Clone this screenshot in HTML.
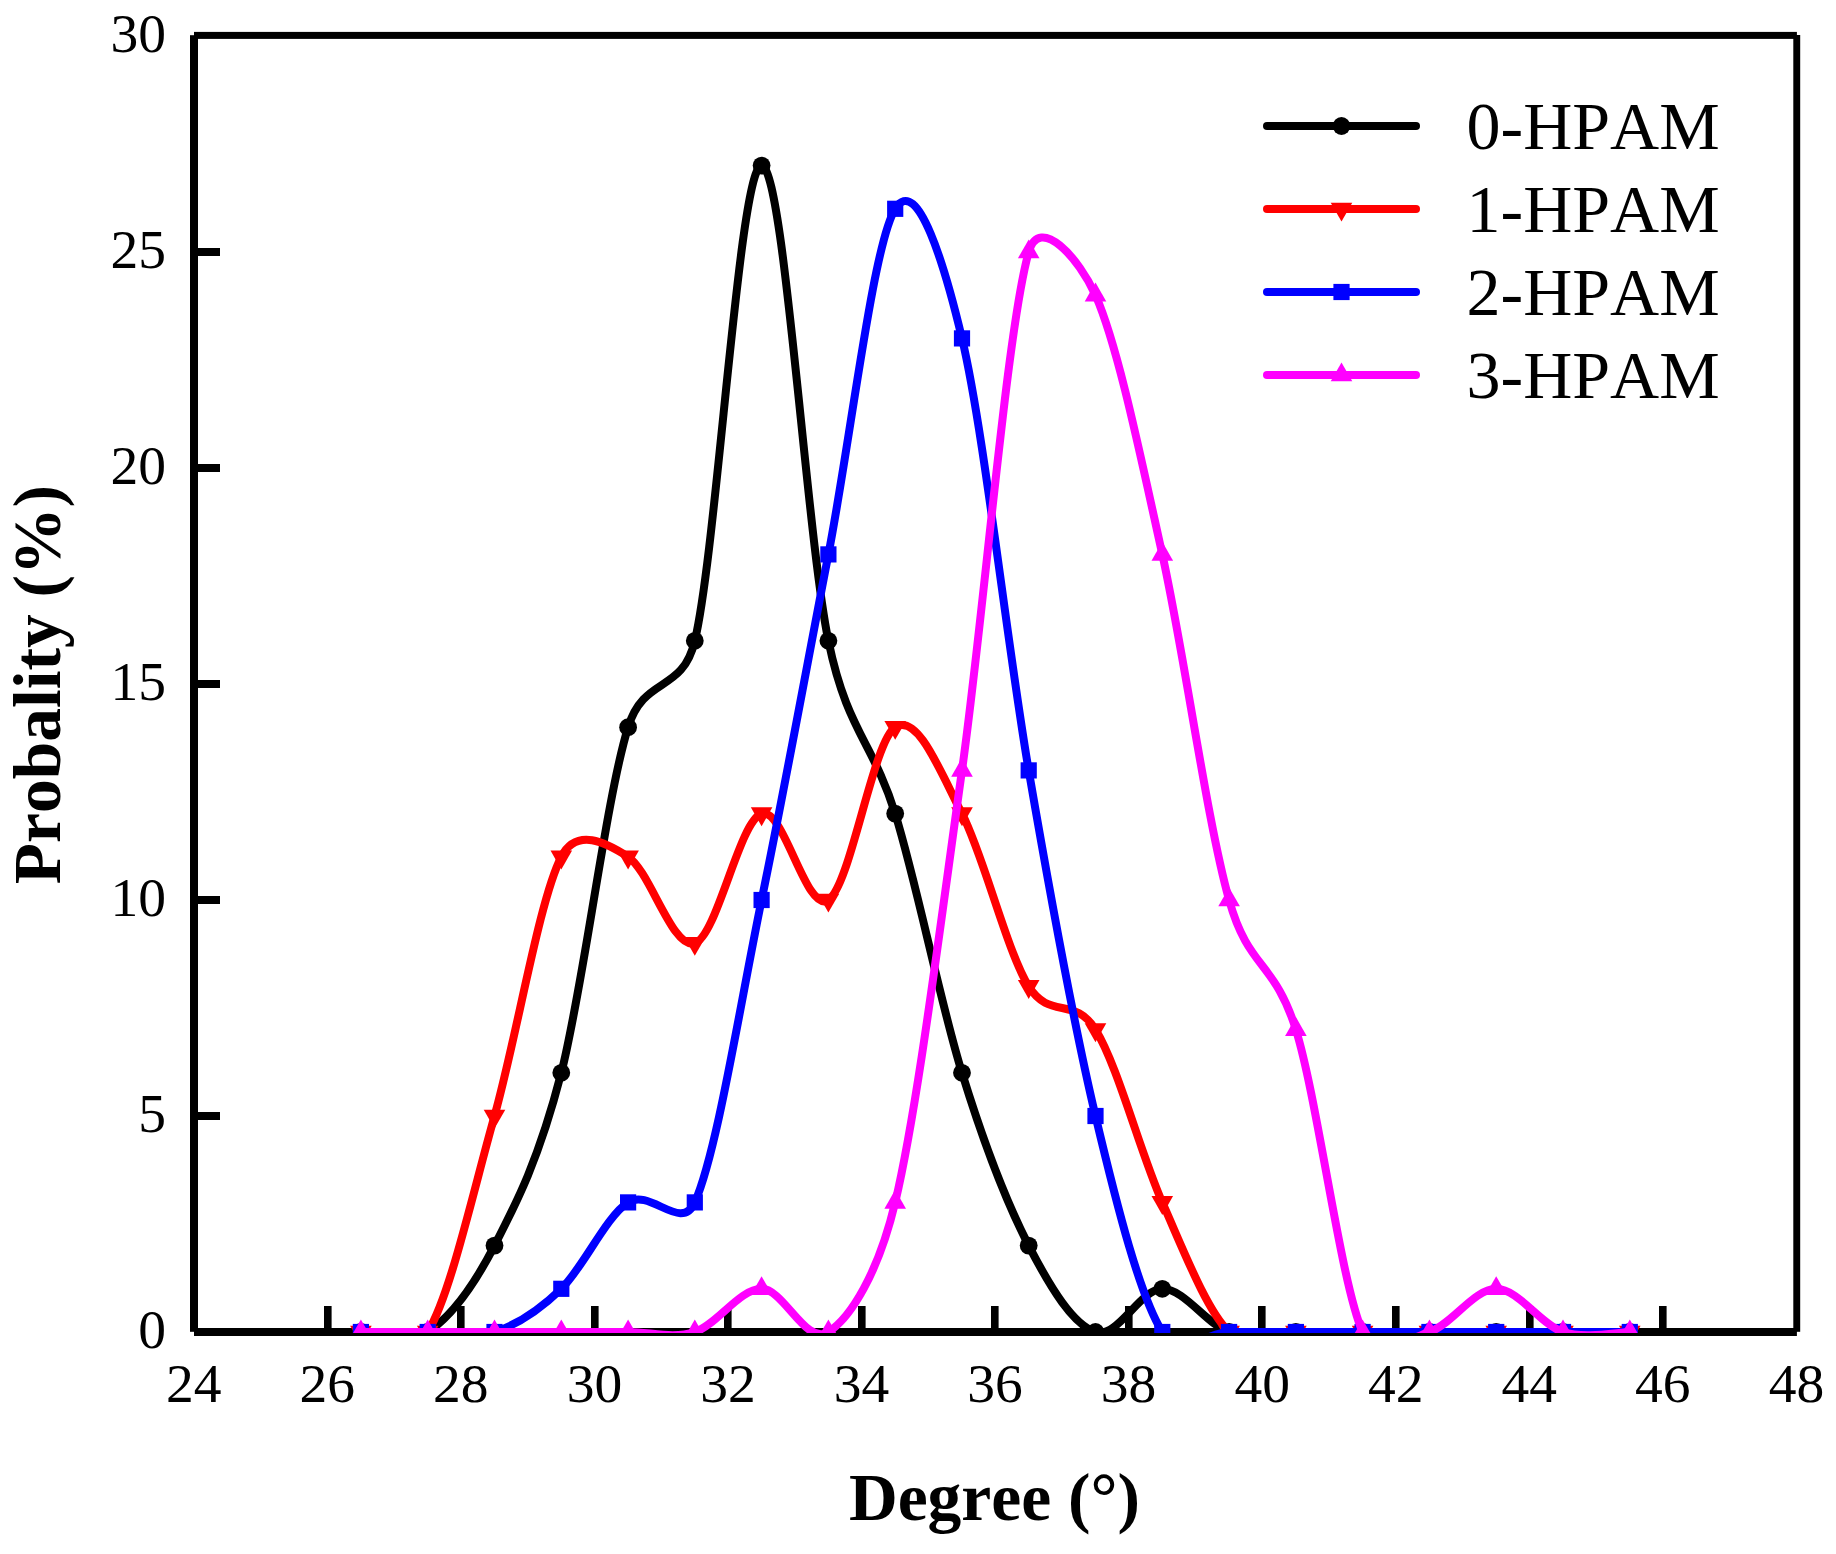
<!DOCTYPE html>
<html lang="en">
<head>
<meta charset="utf-8">
<title>Probality vs Degree</title>
<style>
html,body{margin:0;padding:0;background:#fff;}
body{width:1836px;height:1554px;overflow:hidden;}
svg{display:block;}
text{font-family:"Liberation Serif","Times New Roman",serif;fill:#000;font-kerning:none;font-variant-ligatures:none;}
.tk{font-size:55.5px;}
.lg{font-size:68px;}
.ti{font-size:67.5px;font-weight:bold;}
</style>
</head>
<body>
<svg width="1836" height="1554" viewBox="0 0 1836 1554">
<rect width="1836" height="1554" fill="#fff"/>
<defs><clipPath id="frame"><rect x="194" y="35" width="1603" height="1298"/></clipPath></defs>

<g fill="#000">
<rect x="190" y="35.2" width="8" height="1296.6"/>
<rect x="194" y="1328" width="1602.9" height="8"/>
<rect x="194" y="31.9" width="1602.9" height="7"/>
<rect x="1793.3" y="35" width="6.9" height="1296.8"/>
<rect x="324" y="1306" width="7.6" height="24"/>
<rect x="457" y="1306" width="7.6" height="24"/>
<rect x="591" y="1306" width="7.6" height="24"/>
<rect x="724" y="1306" width="7.6" height="24"/>
<rect x="858" y="1306" width="7.6" height="24"/>
<rect x="991" y="1306" width="7.6" height="24"/>
<rect x="1125" y="1306" width="7.6" height="24"/>
<rect x="1258" y="1306" width="7.6" height="24"/>
<rect x="1392" y="1306" width="7.6" height="24"/>
<rect x="1526" y="1306" width="7.6" height="24"/>
<rect x="1659" y="1306" width="7.6" height="24"/>
<rect x="196" y="1112.0" width="24" height="8"/>
<rect x="196" y="896.0" width="24" height="8"/>
<rect x="196" y="680.0" width="24" height="8"/>
<rect x="196" y="464.0" width="24" height="8"/>
<rect x="196" y="248.0" width="24" height="8"/>
</g>
<g clip-path="url(#frame)">
<path d="M360.9,1332.0C372.1,1332.0 405.5,1346.4 427.7,1332.0C450.0,1317.6 472.2,1288.8 494.5,1245.6C516.8,1202.4 539.0,1159.2 561.3,1072.8C583.5,986.4 605.8,799.2 628.1,727.2C644.2,675.0 682.2,693.9 694.8,640.8C717.1,547.2 739.4,165.6 761.6,165.6C783.9,165.6 806.1,532.8 828.4,640.8C847.1,731.5 872.9,741.6 895.2,813.6C917.4,885.6 939.7,1000.8 962.0,1072.8C984.2,1144.8 1006.5,1202.4 1028.7,1245.6C1051.0,1288.8 1073.3,1324.8 1095.5,1332.0C1117.8,1339.2 1140.0,1288.8 1162.3,1288.8C1184.6,1288.8 1206.8,1324.8 1229.1,1332.0C1251.3,1339.2 1273.6,1332.0 1295.9,1332.0C1318.1,1332.0 1340.4,1332.0 1362.6,1332.0C1384.9,1332.0 1407.2,1332.0 1429.4,1332.0C1451.7,1332.0 1473.9,1332.0 1496.2,1332.0C1518.5,1332.0 1540.7,1332.0 1563.0,1332.0C1585.2,1332.0 1618.6,1332.0 1629.8,1332.0" fill="none" stroke="#000000" stroke-width="8" stroke-linejoin="round" stroke-linecap="round"/>
<g fill="#000000"><circle cx="360.9" cy="1332.0" r="8.9"/><circle cx="427.7" cy="1332.0" r="8.9"/><circle cx="494.5" cy="1245.6" r="8.9"/><circle cx="561.3" cy="1072.8" r="8.9"/><circle cx="628.1" cy="727.2" r="8.9"/><circle cx="694.8" cy="640.8" r="8.9"/><circle cx="761.6" cy="165.6" r="8.9"/><circle cx="828.4" cy="640.8" r="8.9"/><circle cx="895.2" cy="813.6" r="8.9"/><circle cx="962.0" cy="1072.8" r="8.9"/><circle cx="1028.7" cy="1245.6" r="8.9"/><circle cx="1095.5" cy="1332.0" r="8.9"/><circle cx="1162.3" cy="1288.8" r="8.9"/><circle cx="1229.1" cy="1332.0" r="8.9"/><circle cx="1295.9" cy="1332.0" r="8.9"/><circle cx="1362.6" cy="1332.0" r="8.9"/><circle cx="1429.4" cy="1332.0" r="8.9"/><circle cx="1496.2" cy="1332.0" r="8.9"/><circle cx="1563.0" cy="1332.0" r="8.9"/><circle cx="1629.8" cy="1332.0" r="8.9"/></g>
<path d="M360.9,1332.0C372.1,1332.0 410.2,1360.4 427.7,1332.0C450.0,1296.0 472.2,1195.2 494.5,1116.0C516.8,1036.8 539.0,900.0 561.3,856.8C576.6,827.1 605.8,842.4 628.1,856.8C650.3,871.2 672.6,950.4 694.8,943.2C717.1,936.0 739.4,820.8 761.6,813.6C783.9,806.4 806.1,914.4 828.4,900.0C850.7,885.6 872.9,741.6 895.2,727.2C917.4,712.8 939.7,770.4 962.0,813.6C984.2,856.8 1006.5,950.4 1028.7,986.4C1049.7,1020.2 1074.6,995.8 1095.5,1029.6C1117.8,1065.6 1140.0,1152.0 1162.3,1202.4C1184.6,1252.8 1206.8,1310.4 1229.1,1332.0C1251.3,1353.6 1273.6,1332.0 1295.9,1332.0C1318.1,1332.0 1340.4,1332.0 1362.6,1332.0C1384.9,1332.0 1407.2,1332.0 1429.4,1332.0C1451.7,1332.0 1473.9,1332.0 1496.2,1332.0C1518.5,1332.0 1540.7,1332.0 1563.0,1332.0C1585.2,1332.0 1618.6,1332.0 1629.8,1332.0" fill="none" stroke="#ff0000" stroke-width="8" stroke-linejoin="round" stroke-linecap="round"/>
<g fill="#ff0000"><polygon points="350.1,1325.7 371.7,1325.7 360.9,1344.6"/><polygon points="416.9,1325.7 438.5,1325.7 427.7,1344.6"/><polygon points="483.7,1109.7 505.3,1109.7 494.5,1128.6"/><polygon points="550.5,850.5 572.1,850.5 561.3,869.4"/><polygon points="617.3,850.5 638.9,850.5 628.1,869.4"/><polygon points="684.0,936.9 705.6,936.9 694.8,955.8"/><polygon points="750.8,807.3 772.4,807.3 761.6,826.2"/><polygon points="817.6,893.7 839.2,893.7 828.4,912.6"/><polygon points="884.4,720.9 906.0,720.9 895.2,739.8"/><polygon points="951.2,807.3 972.8,807.3 962.0,826.2"/><polygon points="1017.9,980.1 1039.5,980.1 1028.7,999.0"/><polygon points="1084.7,1023.3 1106.3,1023.3 1095.5,1042.2"/><polygon points="1151.5,1196.1 1173.1,1196.1 1162.3,1215.0"/><polygon points="1218.3,1325.7 1239.9,1325.7 1229.1,1344.6"/><polygon points="1285.1,1325.7 1306.7,1325.7 1295.9,1344.6"/><polygon points="1351.8,1325.7 1373.4,1325.7 1362.6,1344.6"/><polygon points="1418.6,1325.7 1440.2,1325.7 1429.4,1344.6"/><polygon points="1485.4,1325.7 1507.0,1325.7 1496.2,1344.6"/><polygon points="1552.2,1325.7 1573.8,1325.7 1563.0,1344.6"/><polygon points="1619.0,1325.7 1640.6,1325.7 1629.8,1344.6"/></g>
<path d="M360.9,1332.0C372.1,1332.0 405.5,1332.0 427.7,1332.0C450.0,1332.0 472.2,1339.2 494.5,1332.0C516.8,1324.8 539.0,1310.4 561.3,1288.8C583.5,1267.2 605.8,1216.8 628.1,1202.4C650.3,1188.0 681.4,1232.9 694.8,1202.4C717.1,1152.0 739.4,1008.0 761.6,900.0C783.9,792.0 806.1,669.6 828.4,554.4C850.7,439.2 872.9,244.8 895.2,208.8C917.4,172.8 945.1,267.5 962.0,338.4C984.2,432.0 1006.5,640.8 1028.7,770.4C1051.0,900.0 1073.3,1022.4 1095.5,1116.0C1117.8,1209.6 1140.0,1296.0 1162.3,1332.0C1179.9,1360.4 1206.8,1332.0 1229.1,1332.0C1251.3,1332.0 1273.6,1332.0 1295.9,1332.0C1318.1,1332.0 1340.4,1332.0 1362.6,1332.0C1384.9,1332.0 1407.2,1332.0 1429.4,1332.0C1451.7,1332.0 1473.9,1332.0 1496.2,1332.0C1518.5,1332.0 1540.7,1332.0 1563.0,1332.0C1585.2,1332.0 1618.6,1332.0 1629.8,1332.0" fill="none" stroke="#0000ff" stroke-width="8" stroke-linejoin="round" stroke-linecap="round"/>
<g fill="#0000ff"><rect x="352.8" y="1323.9" width="16.2" height="16.2"/><rect x="419.6" y="1323.9" width="16.2" height="16.2"/><rect x="486.4" y="1323.9" width="16.2" height="16.2"/><rect x="553.2" y="1280.7" width="16.2" height="16.2"/><rect x="620.0" y="1194.3" width="16.2" height="16.2"/><rect x="686.7" y="1194.3" width="16.2" height="16.2"/><rect x="753.5" y="891.9" width="16.2" height="16.2"/><rect x="820.3" y="546.3" width="16.2" height="16.2"/><rect x="887.1" y="200.7" width="16.2" height="16.2"/><rect x="953.9" y="330.3" width="16.2" height="16.2"/><rect x="1020.6" y="762.3" width="16.2" height="16.2"/><rect x="1087.4" y="1107.9" width="16.2" height="16.2"/><rect x="1154.2" y="1323.9" width="16.2" height="16.2"/><rect x="1221.0" y="1323.9" width="16.2" height="16.2"/><rect x="1287.8" y="1323.9" width="16.2" height="16.2"/><rect x="1354.5" y="1323.9" width="16.2" height="16.2"/><rect x="1421.3" y="1323.9" width="16.2" height="16.2"/><rect x="1488.1" y="1323.9" width="16.2" height="16.2"/><rect x="1554.9" y="1323.9" width="16.2" height="16.2"/><rect x="1621.7" y="1323.9" width="16.2" height="16.2"/></g>
<path d="M360.9,1332.0C372.1,1332.0 405.5,1332.0 427.7,1332.0C450.0,1332.0 472.2,1332.0 494.5,1332.0C516.8,1332.0 539.0,1332.0 561.3,1332.0C583.5,1332.0 605.8,1332.0 628.1,1332.0C650.3,1332.0 672.6,1339.2 694.8,1332.0C717.1,1324.8 739.4,1288.8 761.6,1288.8C783.9,1288.8 806.1,1346.4 828.4,1332.0C850.7,1317.6 878.3,1273.3 895.2,1202.4C917.4,1108.8 939.7,928.8 962.0,770.4C984.2,612.0 1006.5,331.2 1028.7,252.0C1039.5,213.7 1079.5,258.8 1095.5,295.2C1117.8,345.6 1140.0,453.6 1162.3,554.4C1184.6,655.2 1206.8,820.8 1229.1,900.0C1248.8,970.2 1274.3,960.0 1295.9,1029.6C1318.1,1101.6 1340.4,1281.6 1362.6,1332.0C1376.1,1362.5 1407.2,1339.2 1429.4,1332.0C1451.7,1324.8 1473.9,1288.8 1496.2,1288.8C1518.5,1288.8 1540.7,1324.8 1563.0,1332.0C1585.2,1339.2 1618.6,1332.0 1629.8,1332.0" fill="none" stroke="#ff00ff" stroke-width="8" stroke-linejoin="round" stroke-linecap="round"/>
<g fill="#ff00ff"><polygon points="350.1,1338.3 371.7,1338.3 360.9,1319.4"/><polygon points="416.9,1338.3 438.5,1338.3 427.7,1319.4"/><polygon points="483.7,1338.3 505.3,1338.3 494.5,1319.4"/><polygon points="550.5,1338.3 572.1,1338.3 561.3,1319.4"/><polygon points="617.3,1338.3 638.9,1338.3 628.1,1319.4"/><polygon points="684.0,1338.3 705.6,1338.3 694.8,1319.4"/><polygon points="750.8,1295.1 772.4,1295.1 761.6,1276.2"/><polygon points="817.6,1338.3 839.2,1338.3 828.4,1319.4"/><polygon points="884.4,1208.7 906.0,1208.7 895.2,1189.8"/><polygon points="951.2,776.7 972.8,776.7 962.0,757.8"/><polygon points="1017.9,258.3 1039.5,258.3 1028.7,239.4"/><polygon points="1084.7,301.5 1106.3,301.5 1095.5,282.6"/><polygon points="1151.5,560.7 1173.1,560.7 1162.3,541.8"/><polygon points="1218.3,906.3 1239.9,906.3 1229.1,887.4"/><polygon points="1285.1,1035.9 1306.7,1035.9 1295.9,1017.0"/><polygon points="1351.8,1338.3 1373.4,1338.3 1362.6,1319.4"/><polygon points="1418.6,1338.3 1440.2,1338.3 1429.4,1319.4"/><polygon points="1485.4,1295.1 1507.0,1295.1 1496.2,1276.2"/><polygon points="1552.2,1338.3 1573.8,1338.3 1563.0,1319.4"/><polygon points="1619.0,1338.3 1640.6,1338.3 1629.8,1319.4"/></g>
</g>
<text class="tk" x="193.7" y="1402" text-anchor="middle">24</text>
<text class="tk" x="327.3" y="1402" text-anchor="middle">26</text>
<text class="tk" x="460.8" y="1402" text-anchor="middle">28</text>
<text class="tk" x="594.4" y="1402" text-anchor="middle">30</text>
<text class="tk" x="727.9" y="1402" text-anchor="middle">32</text>
<text class="tk" x="861.5" y="1402" text-anchor="middle">34</text>
<text class="tk" x="995.1" y="1402" text-anchor="middle">36</text>
<text class="tk" x="1128.6" y="1402" text-anchor="middle">38</text>
<text class="tk" x="1262.2" y="1402" text-anchor="middle">40</text>
<text class="tk" x="1395.7" y="1402" text-anchor="middle">42</text>
<text class="tk" x="1529.3" y="1402" text-anchor="middle">44</text>
<text class="tk" x="1662.8" y="1402" text-anchor="middle">46</text>
<text class="tk" x="1796.4" y="1402" text-anchor="middle">48</text>
<text class="tk" x="166" y="1348.2" text-anchor="end">0</text>
<text class="tk" x="166" y="1132.2" text-anchor="end">5</text>
<text class="tk" x="166" y="916.2" text-anchor="end">10</text>
<text class="tk" x="166" y="700.2" text-anchor="end">15</text>
<text class="tk" x="166" y="484.2" text-anchor="end">20</text>
<text class="tk" x="166" y="268.2" text-anchor="end">25</text>
<text class="tk" x="166" y="52.2" text-anchor="end">30</text>
<path d="M1267,126H1416" stroke="#000000" stroke-width="8" stroke-linecap="round"/>
<g fill="#000000"><circle cx="1341.5" cy="126.0" r="8.9"/></g>
<text class="lg" x="1466.5" y="149.0">0-HPAM</text>
<path d="M1267,209H1416" stroke="#ff0000" stroke-width="8" stroke-linecap="round"/>
<g fill="#ff0000"><polygon points="1330.7,202.7 1352.3,202.7 1341.5,221.6"/></g>
<text class="lg" x="1466.5" y="232.0">1-HPAM</text>
<path d="M1267,292H1416" stroke="#0000ff" stroke-width="8" stroke-linecap="round"/>
<g fill="#0000ff"><rect x="1333.4" y="283.9" width="16.2" height="16.2"/></g>
<text class="lg" x="1466.5" y="315.0">2-HPAM</text>
<path d="M1267,375H1416" stroke="#ff00ff" stroke-width="8" stroke-linecap="round"/>
<g fill="#ff00ff"><polygon points="1330.7,381.3 1352.3,381.3 1341.5,362.4"/></g>
<text class="lg" x="1466.5" y="398.0">3-HPAM</text>
<text class="ti" x="994.5" y="1520" text-anchor="middle">Degree (°)</text>
<text class="ti" transform="translate(60,684.6) rotate(-90)" text-anchor="middle">Probality (%)</text>
</svg>
</body>
</html>
